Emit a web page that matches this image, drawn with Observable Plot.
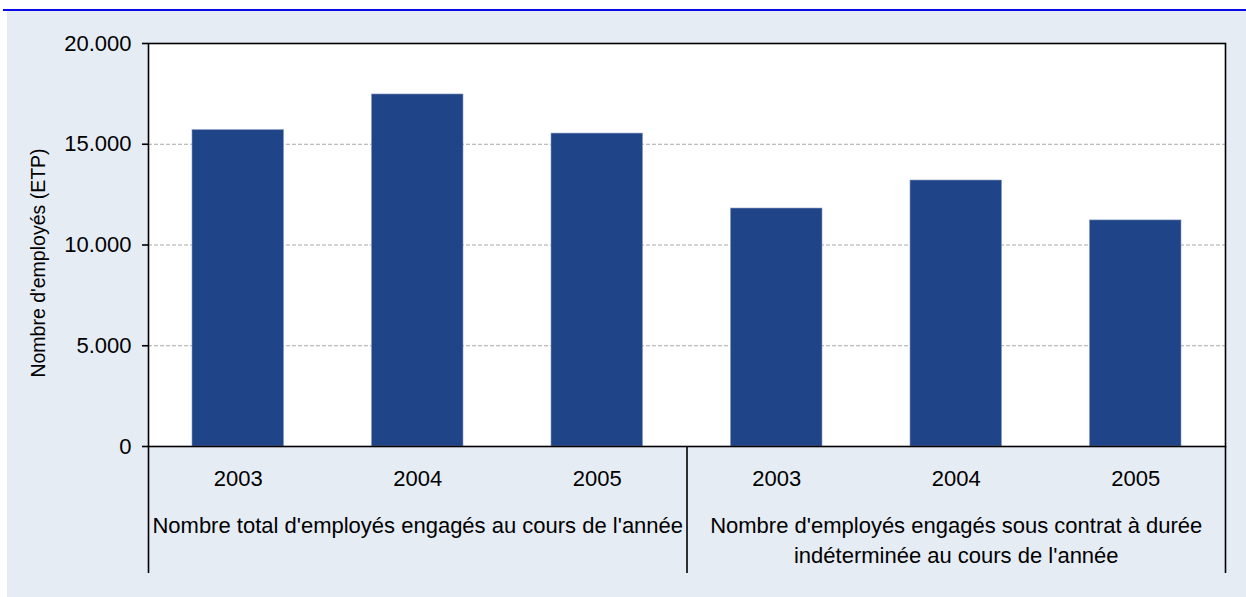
<!DOCTYPE html>
<html>
<head>
<meta charset="utf-8">
<script src="https://cdn.jsdelivr.net/npm/d3@7"></script>
<script src="https://cdn.jsdelivr.net/npm/@observablehq/plot@0.6"></script>
<style>
  html, body { margin: 0; padding: 0; background: #ffffff; }
  #wrap { position: relative; width: 1246px; height: 597px; overflow: hidden; }
  #bg { position: absolute; left: 7px; top: 10px; width: 1239px; height: 587px; background: #e6ecf4; }
  #topline { position: absolute; left: 3px; top: 9px; width: 1243px; height: 1.5px; background: #0a0ae6; }
  #topnub { position: absolute; left: 3px; top: 9px; width: 4px; height: 2px; background: #0a0ae6; }
  #chart { position: absolute; left: 0; top: 0; }
</style>
</head>
<body>
<div id="wrap">
  <div id="bg"></div>
  <div id="topline"></div>
  <div id="topnub"></div>
  <div id="chart"></div>
</div>
<script>
// ---- data ----
const groups = [
  "Nombre total d'employés engagés au cours de l'année",
  "Nombre d'employés engagés sous contrat à durée\nindéterminée au cours de l'année"
];
const years = ["2003", "2004", "2005"];
const valuesTotal = [15700, 17470, 15530];
const valuesCDI = [11810, 13200, 11220];
const yTicks = [0, 5000, 10000, 15000, 20000];
const yLabel = "Nombre d'employés (ETP)";

// table built from the arrays
const rows = [];
[valuesTotal, valuesCDI].forEach((vals, g) => {
  vals.forEach((v, j) => rows.push({idx: g * years.length + j, group: g, year: years[j], value: v}));
});
const nCats = rows.length;
const yearTickPos = rows.map(r => r.idx + 0.5);
const groupTickPos = groups.map((_, g) => g * years.length + years.length / 2);
const dividerPos = [0, ...groups.map((_, g) => (g + 1) * years.length)];

const fr = d3.formatLocale({decimal: ",", thousands: ".", grouping: [3], currency: ["", " €"]});
const fmt = fr.format(",");

const chart = Plot.plot({
  width: 1246,
  height: 597,
  marginLeft: 148,
  marginRight: 21,
  marginTop: 43,
  marginBottom: 151,
  style: {
    background: "transparent",
    fontFamily: "'Liberation Sans', Arial, sans-serif",
    fontSize: "22px",
    color: "#000",
    overflow: "visible"
  },
  x: {domain: [0, nCats], axis: null},
  y: {domain: [0, 20000], axis: null},
  marks: [
    Plot.frame({fill: "white", stroke: null}),
    Plot.gridY(yTicks.filter(t => t > 0 && t < 20000), {stroke: "#a8a8a8", strokeOpacity: 1, strokeWidth: 1, strokeDasharray: "4,2"}),
    Plot.rectY(rows, {
      x1: "idx",
      x2: d => d.idx + 1,
      y: "value",
      insetLeft: 44,
      insetRight: 44,
      fill: "#1f4588",
      stroke: "#8396bf",
      strokeWidth: 0.6
    }),
    Plot.frame({stroke: "#000", strokeWidth: 1.6}),
    Plot.axisY({
      ticks: yTicks,
      tickFormat: d => d === 0 ? "0" : fmt(d),
      tickSize: 6,
      tickPadding: 11,
      stroke: "#000",
      strokeWidth: 1.6,
      label: null
    }),
    Plot.text([yLabel], {
      text: d => d,
      frameAnchor: "left",
      textAnchor: "middle",
      rotate: -90,
      dx: -110,
      dy: 18,
      fontSize: 19.5,
      fill: "#000"
    }),
    Plot.axisX({
      ticks: dividerPos,
      tickSize: 127,
      tickFormat: () => "",
      stroke: "#000",
      strokeWidth: 1.6,
      label: null
    }),
    Plot.axisX({
      ticks: yearTickPos,
      tickSize: 0,
      tickPadding: 24,
      tickFormat: d => rows[Math.floor(d)].year,
      label: null
    }),
    Plot.axisX({
      ticks: groupTickPos,
      tickSize: 0,
      tickPadding: 65,
      tickFormat: d => groups[Math.floor(d / years.length)],
      lineHeight: 1.36,
      label: null
    })
  ]
});
document.getElementById("chart").appendChild(chart);
</script>
</body>
</html>
